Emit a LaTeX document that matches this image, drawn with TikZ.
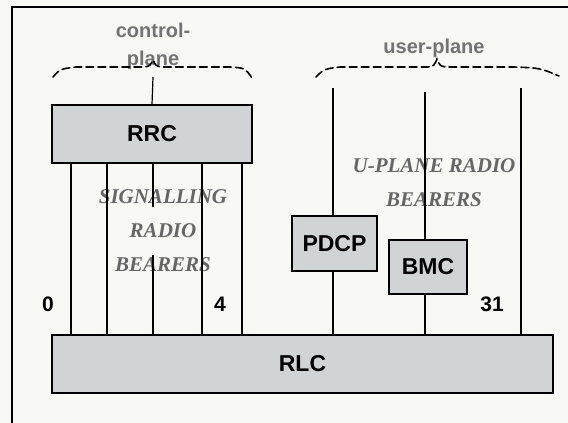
\documentclass[tikz,border=0pt]{standalone}
\usepackage{fontspec}
\setmainfont{Liberation Sans}
\newfontfamily\serifbi{Liberation Serif}
\usetikzlibrary{positioning}
\definecolor{boxgray}{HTML}{D1D4D4}
\definecolor{labelgray}{HTML}{737373}
\definecolor{bearergray}{HTML}{666666}
\definecolor{paper}{HTML}{F8F8F5}
\tikzset{
  layerbox/.style={draw=black,line width=1.5pt,fill=boxgray,inner sep=0pt,font=\fontsize{23}{25}\selectfont\bfseries},
  bearer/.style={line width=1.2pt,draw=black},
  planebrace/.style={line width=1.6pt,dash pattern=on 8pt off 4pt,line cap=round},
  planelabel/.style={text=labelgray,inner sep=0pt,font=\fontsize{20}{22}\selectfont\bfseries},
  bearerlabel/.style={text=bearergray,inner sep=3pt,font=\serifbi\fontsize{21}{23}\selectfont\bfseries\itshape},
  idlabel/.style={inner sep=0pt,font=\fontsize{21}{23}\selectfont\bfseries}
}

\begin{document}
\begin{tikzpicture}[x=1pt,y=-1pt]
  \useasboundingbox[fill=paper] (0,0) rectangle (568,423);
  \draw[line width=1.5pt] (12,430) -- (12,7) -- (570,7);

  % layers
  \node[layerbox,minimum width=200pt,minimum height=58pt] (rrc) at (152,134) {RRC};
  \node[layerbox,minimum width=501pt,minimum height=58pt] (rlc) at (302.5,364) {RLC};
  \node[layerbox,minimum width=85pt,minimum height=55pt] (pdcp) at (334.5,243.5) {PDCP};
  \node[layerbox,minimum width=78pt,minimum height=54pt] (bmc) at (428,267) {BMC};

  % plane labels and braces
  \node[planelabel] (cplab1) at (153,30) {control-};
  \node[planelabel] (cplab2) at (153,60) {plane};
  \node[planelabel] (uplab) at (434,48) {user-plane};
  \coordinate (cpeak) at (153,77);
  \draw[planebrace] (53,77) .. controls (60,69) .. (76,67) -- (144,67)
    .. controls (150,66) .. (153,60) .. controls (156,66) .. (162,67) -- (230,67)
    .. controls (245,68) .. (252,78);
  \draw[planebrace] (316,77) .. controls (324,69) .. (340,67) -- (428,67)
    .. controls (434,66) .. (437,59) .. controls (440,66) .. (446,67) -- (514,67)
    .. controls (540,68) .. (559,76);
  \draw[bearer] (rrc.north) -- (cpeak);

  % bearer labels
  \node[bearerlabel] (sigtop) at (163,197) {SIGNALLING};
  \node[bearerlabel] (sigmid) at (163,231) {RADIO};
  \node[bearerlabel] (sigbot) at (163,265) {BEARERS};
  \node[bearerlabel] (uptop) at (434,166) {U-PLANE RADIO};
  \node[bearerlabel] (upbot) at (434,200) {BEARERS};

  % signalling radio bearers
  \foreach \x [count=\i from 0] in {71,107,153,202,242}
    \coordinate (s\i) at (\x,0);
  \foreach \i in {0,1,3,4}
    \draw[bearer] (s\i |- rrc.south) -- (s\i |- rlc.north);
  \draw[bearer] (s2 |- rrc.south) -- (s2 |- sigtop.south);
  \draw[bearer] (s2 |- sigbot.north) -- (s2 |- rlc.north);

  % user plane radio bearers
  \coordinate (u0) at (333,88);
  \coordinate (u1) at (425,92);
  \coordinate (u2) at (521,88);
  \draw[bearer] (u0) -- (u0 |- pdcp.north);
  \draw[bearer] (u0 |- pdcp.south) -- (u0 |- rlc.north);
  \draw[bearer] (u1) -- (u1 |- bmc.north);
  \draw[bearer] (u1 |- bmc.south) -- (u1 |- rlc.north);
  \draw[bearer] (u2) -- (u2 |- rlc.north);

  % bearer ids
  \node[idlabel] (id0) at (48,304) {0};
  \node[idlabel] (id4) at (220,304) {4};
  \node[idlabel] (id31) at (492,304) {31};
\end{tikzpicture}
\end{document}
